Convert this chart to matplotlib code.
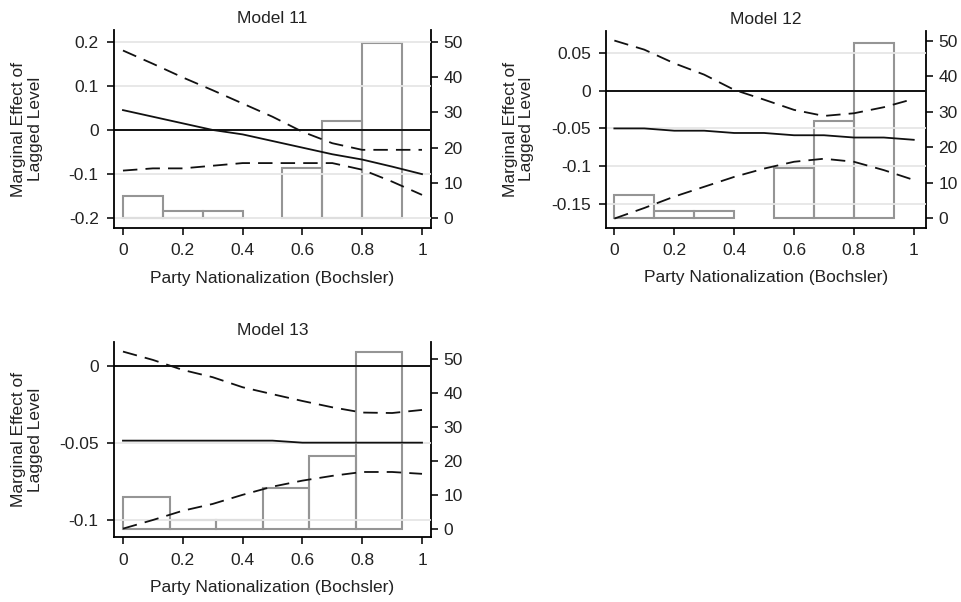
import matplotlib
matplotlib.use("Agg")
import matplotlib.pyplot as plt

plt.rcParams['font.family'] = ['Liberation Sans', 'DejaVu Sans']
plt.rcParams['axes.unicode_minus'] = False

# evaluation points of party nationalization
x_vals = [0, 0.1, 0.2, 0.3, 0.4, 0.5, 0.6, 0.7, 0.8, 0.9, 1.0]

# Model 11
m11_est = [0.045, 0.030, 0.015, 0.000, -0.010, -0.025, -0.040, -0.055, -0.067, -0.083, -0.100]
m11_hi = [0.180, 0.150, 0.119, 0.090, 0.060, 0.030, -0.004, -0.030, -0.045, -0.045, -0.045]
m11_lo = [-0.092, -0.087, -0.087, -0.081, -0.075, -0.075, -0.075, -0.075, -0.090, -0.117, -0.147]
m11_bin_left = [0, 0.1333, 0.2667, 0.5333, 0.6667, 0.8]
m11_pct = [6.3, 2.0, 2.0, 14.2, 27.6, 49.5]

# Model 12
m12_est = [-0.050, -0.050, -0.053, -0.053, -0.056, -0.056, -0.059, -0.059, -0.062, -0.062, -0.065]
m12_hi = [0.066, 0.054, 0.036, 0.021, 0.001, -0.012, -0.0255, -0.0335, -0.030, -0.022, -0.011]
m12_lo = [-0.169, -0.155, -0.140, -0.127, -0.114, -0.103, -0.094, -0.090, -0.094, -0.105, -0.118]
m12_bin_left = [0, 0.1333, 0.2667, 0.5333, 0.6667, 0.8]
m12_pct = [6.5, 2.0, 2.0, 14.1, 27.5, 49.3]

# Model 13
m13_est = [-0.0486, -0.0486, -0.0486, -0.0486, -0.0486, -0.0486, -0.0499, -0.0499, -0.0499, -0.0499, -0.0499]
m13_hi = [0.0091, 0.0037, -0.0028, -0.0075, -0.014, -0.0185, -0.0229, -0.027, -0.0304, -0.0307, -0.0287]
m13_lo = [-0.1056, -0.100, -0.094, -0.0896, -0.0837, -0.0784, -0.0745, -0.0714, -0.0689, -0.0689, -0.0701]
m13_bin_left = [0, 0.1557, 0.3113, 0.467, 0.6227, 0.7783]
m13_pct = [9.25, 2.6, 2.6, 11.9, 21.4, 52.0]

x_ticks = [0, 0.2, 0.4, 0.6, 0.8, 1]
x_ticklabels = ['0', '0.2', '0.4', '0.6', '0.8', '1']
pct_ticks = [0, 10, 20, 30, 40, 50]

panels = [
    # title, est, hi, lo, bin lefts, pct, bin width, yticks, ylim, xlim, pct ylim, rect
    ("Model 11", m11_est, m11_hi, m11_lo, m11_bin_left, m11_pct, 0.1333,
     [-0.2, -0.1, 0, 0.1, 0.2], ['-0.2', '-0.1', '0', '0.1', '0.2'],
     (-0.222, 0.2265), (-0.030, 1.030), (-2.75, 53.3),
     [0.1185, 0.6213, 0.3295, 0.3289]),
    ("Model 12", m12_est, m12_hi, m12_lo, m12_bin_left, m12_pct, 0.1333,
     [-0.15, -0.1, -0.05, 0, 0.05], ['-0.15', '-0.1', '-0.05', '0', '0.05'],
     (-0.181, 0.079), (-0.0277, 1.04), (-2.65, 52.8),
     [0.630, 0.6218, 0.3323, 0.3272]),
    ("Model 13", m13_est, m13_hi, m13_lo, m13_bin_left, m13_pct, 0.1557,
     [-0.1, -0.05, 0], ['-0.1', '-0.05', '0'],
     (-0.1112, 0.0155), (-0.030, 1.030), (-2.53, 55.1),
     [0.1185, 0.1075, 0.3295, 0.3249]),
]

fig = plt.figure(figsize=(9.62, 6.02), dpi=100)
txt = '#222222'
bar_col = '#959595'
fs = 12.5

for (title, est, hi, lo, bleft, pct, bw, yt, ytl, ylim, xlim, pylim, rect) in panels:
    ax = fig.add_axes(rect)
    ax2 = ax.twinx()
    # histogram behind the effect lines
    ax2.bar(bleft, pct, width=bw, align='edge', fill=False,
            edgecolor=bar_col, linewidth=1.5)
    ax2.set_ylim(pylim)
    ax2.set_yticks(pct_ticks)
    ax.set_zorder(ax2.get_zorder() + 1)
    ax.patch.set_visible(False)

    for y in yt:
        ax.axhline(y, color='#e6e6e6', linewidth=1.3, zorder=0)
    ax.axhline(0, color='#111111', linewidth=1.4, zorder=2)
    ax.plot(x_vals, est, color='#111111', linewidth=1.3, zorder=3)
    ax.plot(x_vals, hi, color='#111111', linewidth=1.3, dashes=(8, 4.5), zorder=3)
    ax.plot(x_vals, lo, color='#111111', linewidth=1.3, dashes=(8, 4.5), zorder=3)

    ax.set_xlim(xlim)
    ax.set_ylim(ylim)
    ax.set_xticks(x_ticks)
    ax.set_xticklabels(x_ticklabels)
    ax.set_yticks(yt)
    ax.set_yticklabels(ytl)
    ax.set_title(title, fontsize=fs, color=txt, pad=5)
    ax.set_xlabel("Party Nationalization (Bochsler)", fontsize=fs, color=txt, labelpad=9)
    ax.set_ylabel("Marginal Effect of\nLagged Level", fontsize=fs, color=txt,
                  linespacing=1.1)
    ax.yaxis.set_label_coords(-0.225, 0.5)

    for a in (ax, ax2):
        a.spines['top'].set_visible(False)
        a.tick_params(labelsize=fs, colors='#111111', labelcolor=txt,
                      length=5, width=1.2, direction='out')
    ax.tick_params(axis='y', pad=6)
    ax.tick_params(axis='x', pad=6)
    ax2.tick_params(axis='y', pad=4)
    ax.spines['right'].set_visible(False)
    ax2.spines['left'].set_visible(False)
    ax2.spines['bottom'].set_visible(False)
    ax.spines['left'].set_linewidth(1.3)
    ax.spines['bottom'].set_linewidth(1.3)
    ax2.spines['right'].set_linewidth(1.3)

fig.savefig("out.png", dpi=100)
